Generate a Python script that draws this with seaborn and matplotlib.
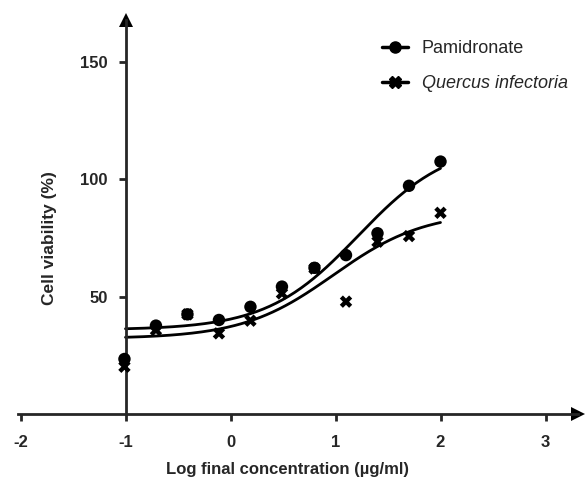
import numpy as np
import pandas as pd
import matplotlib
matplotlib.use("Agg")
import matplotlib.pyplot as plt
import seaborn as sns
from matplotlib.lines import Line2D

# log10 of final concentration (ug/ml)
log_conc = [-1.01, -0.71, -0.41, -0.11, 0.19, 0.49, 0.80, 1.10, 1.40, 1.70, 2.00]
pamidronate = [23.5, 37.7, 42.5, 40.1, 45.7, 54.3, 62.3, 67.7, 77.0, 97.2, 107.5]
quercus = [20.2, 35.8, 42.5, 34.4, 39.8, 51.4, 62.0, 47.9, 73.4, 75.8, 85.7]

series_names = ["Pamidronate", "Quercus infectoria"]
x_ticks = [-2, -1, 0, 1, 2, 3]
y_ticks = [50, 100, 150]

df = pd.DataFrame({
    "logc": log_conc * 2,
    "viab": pamidronate + quercus,
    "drug": [series_names[0]] * len(log_conc) + [series_names[1]] * len(log_conc),
})


def fit_curve(x, y):
    # log(agonist) vs response, hill slope 1: grid over logEC50,
    # bottom & span solved by least squares
    x = np.asarray(x)
    y = np.asarray(y)
    cs = np.linspace(-0.5, 3.5, 801)[:, None]
    s = 1.0 / (1.0 + 10 ** (cs - x))
    sm = s.mean(axis=1, keepdims=True)
    ym = y.mean()
    span = ((s - sm) * (y - ym)).sum(axis=1, keepdims=True) / ((s - sm) ** 2).sum(axis=1, keepdims=True)
    bottom = ym - span * sm
    sse = ((bottom + span * s - y) ** 2).sum(axis=1)
    i = np.argmin(sse)
    c, b, sp = cs[i, 0], bottom[i, 0], span[i, 0]
    return lambda t: b + sp / (1.0 + 10 ** (c - t))


sns.set_style("ticks")
plt.rcParams["font.family"] = ["Liberation Sans", "DejaVu Sans"]
plt.rcParams["axes.unicode_minus"] = False

fig = plt.figure(figsize=(5.85, 4.83), dpi=100)
left_px, right_px = 18.4, 578.0
ax = fig.add_axes([left_px / 585, 0.1424, (right_px - left_px) / 585, 0.816])

sns.scatterplot(data=df, x="logc", y="viab", style="drug", markers=["o", "X"],
                hue="drug", palette=["black", "black"], s=80, linewidth=0,
                legend=False, ax=ax, zorder=3)

xx = np.linspace(-1, 2, 200)
for yy in (pamidronate, quercus):
    f = fit_curve(log_conc, yy)
    sns.lineplot(x=xx, y=f(xx), color="black", lw=2, ax=ax)

x_hi = 3 + (right_px - 545.5) / 105
ax.set_xlim(-2.02, x_hi)
ax.set_ylim(0, 167.7)
ax.spines["left"].set_position(("data", -1))
ax.spines["right"].set_visible(False)
ax.spines["top"].set_visible(False)
for sp in ("left", "bottom"):
    ax.spines[sp].set_linewidth(2)

ax.set_xticks(x_ticks)
ax.set_yticks(y_ticks)
ax.tick_params(axis="both", width=2, length=5, labelsize=12)
ax.tick_params(axis="x", pad=10)
ax.tick_params(axis="y", pad=8)
for lab in ax.get_xticklabels() + ax.get_yticklabels():
    lab.set_fontweight("bold")

# arrow heads
ax.plot(1, 0, ">", color="black", ms=10, mew=0, transform=ax.transAxes, clip_on=False)
ax.plot(-1, 1, "^", color="black", ms=10, mew=0, transform=ax.get_xaxis_transform(), clip_on=False)

ax.set_xlabel("Log final concentration (µg/ml)", fontsize=12, fontweight="bold")
ax.set_ylabel("Cell viability (%)", fontsize=12.5, fontweight="bold")
ax.yaxis.set_label_coords((57 - left_px) / (right_px - left_px), (414.2 - 238) / 394.2)
ax.xaxis.set_label_coords((288 - left_px) / (right_px - left_px), (414.2 - 462) / 394.2)

handles = [
    Line2D([], [], color="black", lw=2.5, marker="o", ms=8),
    Line2D([], [], color="black", lw=2.5, marker="X", ms=9),
]
leg = ax.legend(handles, series_names, loc="upper left", frameon=False,
                bbox_to_anchor=(382 / 585, 1 - 40 / 483), bbox_transform=fig.transFigure,
                borderaxespad=0, borderpad=0, handlelength=1.45, handletextpad=0.75,
                labelspacing=1.0, fontsize=13)
leg.get_texts()[1].set_fontstyle("italic")

fig.savefig("out.png", dpi=100)
